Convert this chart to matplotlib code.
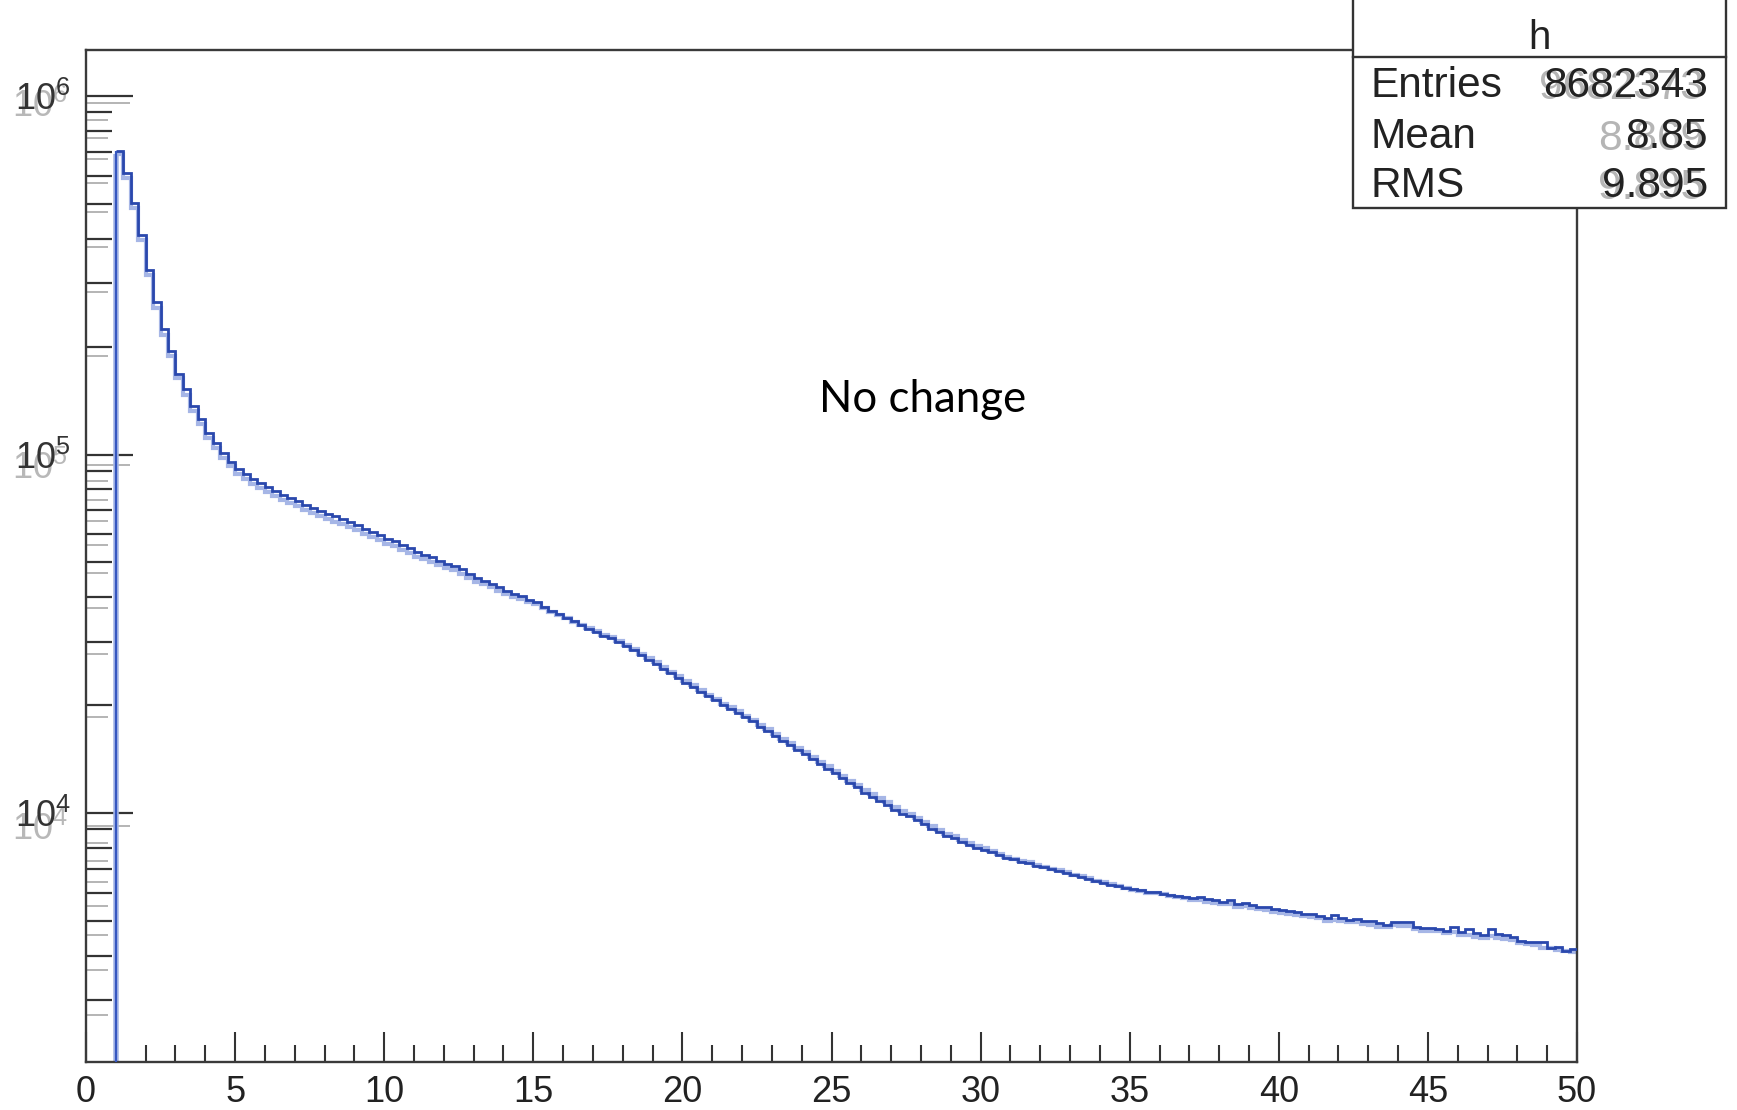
import matplotlib.pyplot as plt
import numpy as np
from matplotlib.ticker import FixedLocator, LogLocator, NullFormatter, MultipleLocator
from matplotlib.patches import Rectangle
from matplotlib.lines import Line2D

plt.rcParams['font.family'] = ['Liberation Sans', 'DejaVu Sans']
plt.rcParams['mathtext.fontset'] = 'custom'
plt.rcParams['mathtext.rm'] = 'Liberation Sans'
plt.rcParams['mathtext.it'] = 'Liberation Sans:italic'

# histogram h: 0.25 wide bins from 1 to 50 (one row = one unit of x)
bin_lo, bin_hi, bin_w = 1.0, 50.0, 0.25
h_dark = [
    704000, 609000, 504000, 409000,
    327000, 266000, 224000, 194000,
    168000, 152000, 136500, 125400,
    115000, 107400, 100800, 95500,
    91000, 88200, 85600, 83200,
    81000, 79000, 77200, 75800,
    74200, 72500, 70800, 69500,
    68400, 67200, 66100, 64800,
    63400, 62100, 60700, 59600,
    58100, 57300, 55900, 54800,
    53500, 52600, 51800, 50600,
    49500, 48900, 47800, 46500,
    45300, 44500, 43600, 42600,
    41700, 40900, 40200, 39400,
    38700, 37600, 36700, 35900,
    35000, 34300, 33500, 32700,
    32000, 31200, 30700, 29900,
    29200, 28400, 27500, 26800,
    26000, 25200, 24500, 23800,
    23000, 22500, 21800, 21200,
    20600, 20000, 19500, 19000,
    18500, 18000, 17400, 16900,
    16400, 15900, 15500, 15000,
    14600, 14100, 13700, 13300,
    12900, 12500, 12100, 11800,
    11400, 11100, 10800, 10500,
    10200, 9950, 9800, 9550,
    9300, 9050, 8850, 8650,
    8500, 8300, 8150, 8000,
    7900, 7800, 7650, 7500,
    7420, 7300, 7250, 7100,
    7050, 6960, 6900, 6800,
    6700, 6620, 6560, 6450,
    6380, 6300, 6250, 6180,
    6120, 6080, 6030, 6010,
    5960, 5920, 5870, 5820,
    5790, 5840, 5760, 5720,
    5650, 5720, 5580, 5600,
    5530, 5470, 5460, 5380,
    5350, 5320, 5290, 5240,
    5220, 5170, 5080, 5180,
    5100, 5030, 5050, 4990,
    5010, 4930, 4880, 4960,
    4950, 4950, 4820, 4780,
    4770, 4760, 4700, 4820,
    4650, 4740, 4640, 4580,
    4740, 4600, 4560, 4510,
    4400, 4370, 4360, 4370,
    4200, 4240, 4120, 4180,
]
# the second (faint) copy of the histogram underneath
h_light = [
    690000, 592000, 488000, 396000,
    316000, 256000, 216000, 188000,
    163000, 147000, 132000, 121500,
    111500, 104000, 97800, 92600,
    88000, 85300, 82800, 80500,
    78400, 76500, 74700, 73300,
    71800, 70200, 68600, 67300,
    66200, 65000, 63900, 62800,
    61400, 60200, 58800, 57800,
    56300, 55600, 54200, 53200,
    51900, 51000, 50000, 49100,
    48100, 47500, 46500, 45300,
    44200, 43400, 42600, 41700,
    40800, 40100, 39500, 38800,
    38200, 37200, 36400, 35700,
    34900, 34200, 33500, 32800,
    32100, 31400, 30900, 30100,
    29400, 28600, 27800, 27100,
    26300, 25500, 24800, 24100,
    23300, 22700, 22000, 21400,
    20800, 20200, 19700, 19200,
    18700, 18200, 17600, 17100,
    16600, 16100, 15700, 15200,
    14800, 14300, 13900, 13500,
    13100, 12700, 12300, 12000,
    11600, 11300, 11000, 10700,
    10400, 10150, 9950, 9700,
    9450, 9200, 8950, 8750,
    8600, 8400, 8250, 8100,
    7980, 7850, 7700, 7560,
    7460, 7360, 7280, 7150,
    7080, 7000, 6920, 6830,
    6730, 6650, 6580, 6480,
    6400, 6330, 6260, 6190,
    6110, 6060, 6000, 5980,
    5930, 5880, 5830, 5790,
    5710, 5700, 5640, 5620,
    5560, 5590, 5470, 5500,
    5440, 5380, 5360, 5300,
    5270, 5230, 5200, 5160,
    5140, 5090, 5000, 5020,
    4990, 4950, 4970, 4890,
    4880, 4820, 4800, 4860,
    4830, 4830, 4740, 4700,
    4700, 4680, 4620, 4650,
    4560, 4580, 4520, 4490,
    4550, 4480, 4450, 4420,
    4350, 4320, 4280, 4200,
    4200, 4160, 4120, 4100,
]

stat_title = "h"
stat_names = ["Entries", "Mean", "RMS"]
stat_vals = ["8682343", "8.85", "9.895"]
stat_ghost = ["9682373", "8.869", "9.895"]
y_major = [1e4, 1e5, 1e6]
y_labels = ["$10^{4}$", "$10^{5}$", "$10^{6}$"]
note = "No change"

W, H = 1737, 1110
fig = plt.figure(figsize=(W / 100, H / 100), dpi=100)
rect = [86 / W, 1 - 1062 / H, (1577 - 86) / W, (1062 - 50) / H]

# faint, slightly rescaled copy of the y axis (two overlaid pictures)
ghost = fig.add_axes(rect, facecolor='none')
ghost.set_yscale('log')
ghost.set_xlim(0, 50)
ghost.set_ylim(10 ** 3.3472, 10 ** 6.1466)
for s in ghost.spines.values():
    s.set_visible(False)
ghost.set_xticks([])
ghost.yaxis.set_major_locator(FixedLocator(y_major))
ghost.set_yticklabels(y_labels)
ghost.yaxis.set_minor_locator(LogLocator(base=10, subs=np.arange(2, 10)))
ghost.yaxis.set_minor_formatter(NullFormatter())
ghost.tick_params(axis='y', which='major', direction='in', length=31.5, width=1.4,
                  color='#b4b4b4', labelcolor='#b8b8b8', labelsize=26, pad=13)
ghost.tick_params(axis='y', which='minor', direction='in', length=16, width=1.4,
                  color='#b4b4b4')

ax = fig.add_axes(rect, facecolor='none')
ax.set_yscale('log')
ax.set_xlim(0, 50)
ax.set_ylim(2020, 1.344e6)

edges = np.arange(bin_lo, bin_hi + bin_w / 2, bin_w)
ax.stairs(h_light, edges, baseline=None, color='#a6b6e6', lw=3.0, zorder=2)
ax.vlines(edges[0], 1, h_light[0], color='#a6b6e6', lw=4.0, zorder=2)
ax.stairs(h_dark, edges, baseline=None, color='#2a48ad', lw=2.0, zorder=3)
ax.vlines(edges[0], 1, h_dark[0], color='#3556c0', lw=1.6, zorder=3)

ax.xaxis.set_major_locator(MultipleLocator(5))
ax.xaxis.set_minor_locator(MultipleLocator(1))
ax.yaxis.set_major_locator(FixedLocator(y_major))
ax.set_yticklabels(y_labels)
ax.yaxis.set_minor_locator(LogLocator(base=10, subs=np.arange(2, 10)))
ax.yaxis.set_minor_formatter(NullFormatter())
ax.tick_params(axis='x', which='major', direction='in', length=21.6, width=1.5,
               color='#333333', labelcolor='#222222', labelsize=26, pad=9, top=False)
ax.tick_params(axis='x', which='minor', direction='in', length=12.2, width=1.5,
               color='#333333', top=False)
ax.tick_params(axis='y', which='major', direction='in', length=33.8, width=1.6,
               color='#333333', labelcolor='#333333', labelsize=26, pad=11, right=False)
ax.tick_params(axis='y', which='minor', direction='in', length=18.7, width=1.6,
               color='#333333', right=False)
for s in ax.spines.values():
    s.set_color('#3a3a3a')
    s.set_linewidth(1.7)

fig.text(923 / W, 1 - 399 / H, note, family=['Lato', 'DejaVu Sans'], fontsize=31.5,
         ha='center', va='center', color='black')

# stats box
bx0, bx1, by_sep, by1 = 1353, 1726, 57, 208
fig.add_artist(Rectangle((bx0 / W, 1 - by1 / H), (bx1 - bx0) / W, by1 / H + 0.02,
                         transform=fig.transFigure, facecolor='white',
                         edgecolor='#333333', lw=1.7, zorder=10, clip_on=False))
fig.add_artist(Line2D([bx0 / W, bx1 / W], [1 - by_sep / H] * 2, transform=fig.transFigure,
                      color='#333333', lw=1.7, zorder=11))
fig.text((bx0 + bx1) / 2 / W, 1 - 38 / H, stat_title, fontsize=29, ha='center',
         va='center', color='#222222', zorder=12)
row_y = [86, 137, 186]
for name, val, gv, yy in zip(stat_names, stat_vals, stat_ghost, row_y):
    fig.text(1371 / W, 1 - yy / H, name, fontsize=30.5, ha='left', va='center',
             color='#222222', zorder=12)
    fig.text(1704 / W, 1 - (yy + 2) / H, gv, fontsize=30.5, ha='right', va='center',
             color='#b5b5b5', zorder=12)
    fig.text(1708 / W, 1 - yy / H, val, fontsize=30.5, ha='right', va='center',
             color='#222222', zorder=13)

fig.savefig('out.png', dpi=100)
